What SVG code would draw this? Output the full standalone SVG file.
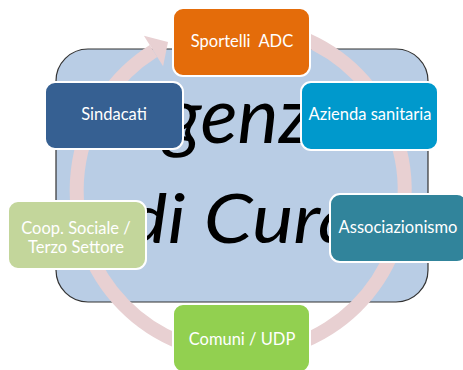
<svg xmlns="http://www.w3.org/2000/svg" width="463" height="370" viewBox="0 0 463 370">
<style>
.box{stroke:#ffffff;stroke-width:2}
.lbl{font-family:Lato,"Liberation Sans",sans-serif;font-size:16.5px;fill:#ffffff;text-anchor:middle}
.big{font-family:Lato,"Liberation Sans",sans-serif;font-style:italic;fill:#000000}
</style>
<rect width="463" height="370" fill="#ffffff"/>
<g id="background">
<rect x="56" y="49" width="372" height="253" rx="32" ry="32" fill="#b9cde5" stroke="#333333" stroke-width="1.2"/>
</g>
<g id="connectors">
<path d="M 300 37 A 164 164 0 1 1 153.5 51" fill="none" stroke="#e8d0d2" stroke-width="14"/>
<polygon points="143.9,35.8 168,41.9 163.1,66.2" fill="#e8d0d2"/>
</g>
<g id="title">
<text class="big" x="115" y="143" font-size="78" textLength="254" lengthAdjust="spacingAndGlyphs">Agenzia</text>
<text class="big" x="126" y="243" font-size="68" textLength="232" lengthAdjust="spacingAndGlyphs">di Cura</text>
</g>
<g id="sportelli">
<rect class="box" x="173" y="8" width="137" height="68" rx="10" fill="#e46c0a"/>
<text class="lbl" x="242" y="47" xml:space="preserve">Sportelli  ADC</text>
</g>
<g id="sindacati">
<rect class="box" x="45" y="82" width="138" height="67" rx="10" fill="#366092"/>
<text class="lbl" x="114" y="120">Sindacati</text>
</g>
<g id="azienda">
<rect class="box" x="301" y="82" width="137" height="68" rx="10" fill="#0099cc"/>
<text class="lbl" x="370" y="120">Azienda sanitaria</text>
</g>
<g id="associazionismo">
<rect class="box" x="330" y="194" width="137" height="68" rx="10" fill="#31849b"/>
<text class="lbl" x="398" y="233">Associazionismo</text>
</g>
<g id="coop">
<rect class="box" x="8" y="201" width="138" height="68" rx="10" fill="#c3d69b"/>
<text class="lbl" x="76" y="234">Coop. Sociale /</text>
<text class="lbl" x="76" y="253">Terzo Settore</text>
</g>
<g id="comuni">
<rect class="box" x="173" y="304" width="137" height="68" rx="10" fill="#92d050"/>
<text class="lbl" x="242" y="345">Comuni / UDP</text>
</g>
</svg>
